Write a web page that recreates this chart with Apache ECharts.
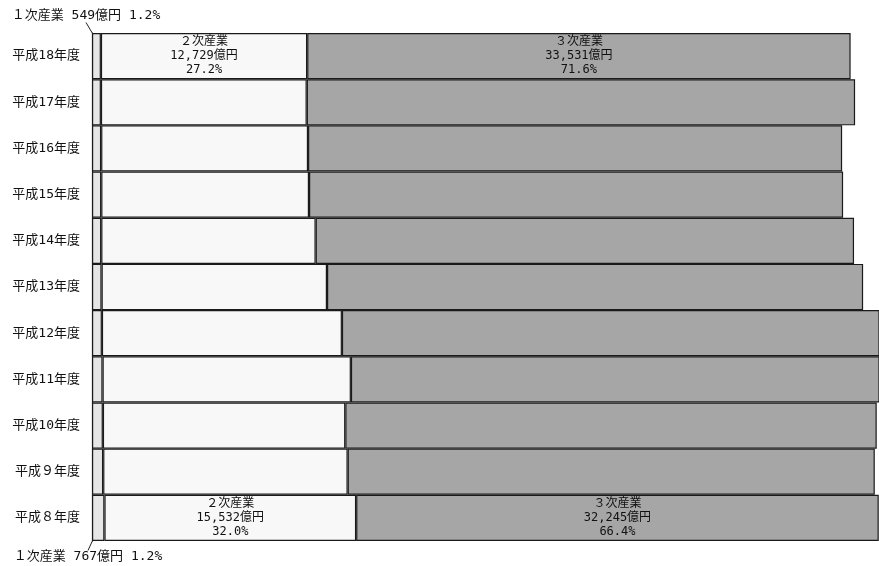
<!DOCTYPE html>
<html>
<head>
<meta charset="utf-8">
<script src="https://cdn.jsdelivr.net/npm/echarts@6/dist/echarts.min.js"></script>
<style>
html,body{margin:0;padding:0;background:#fff;}
#chart{width:879px;height:566px;}
</style>
</head>
<body>
<div id="chart"></div>
<script>
// Categories (bottom to top)
var categories = ['平成８年度','平成９年度','平成10年度','平成11年度','平成12年度','平成13年度','平成14年度','平成15年度','平成16年度','平成17年度','平成18年度'];
// 億円
var primary   = [767, 690, 670, 650, 610, 590, 570, 570, 565, 550, 549];
var secondary = [15532, 15085, 14960, 15325, 14810, 13910, 13230, 12820, 12765, 12700, 12729];
var tertiary  = [32245, 32525, 32790, 32925, 33580, 33080, 33220, 32955, 32955, 33835, 33531];
// Percent labels as printed (null = not labelled)
var primaryPct   = ['1.2%', null, null, null, null, null, null, null, null, null, '1.2%'];
var secondaryPct = ['32.0%', null, null, null, null, null, null, null, null, null, '27.2%'];
var tertiaryPct  = ['66.4%', null, null, null, null, null, null, null, null, null, '71.6%'];
var seriesNames = ['１次産業', '２次産業', '３次産業'];
var xMax = 48560;

var FONT = "'DejaVu Sans Mono', 'Noto Sans CJK JP', monospace";
function fmt(v){ return v.toString().replace(/\B(?=(\d{3})+(?!\d))/g, ','); }

function buildData(values, pcts){
  return values.map(function(v, i){
    return { value: v, label: { show: pcts[i] != null } };
  });
}

function innerLabel(name, pcts){
  return {
    show: false, position: 'inside', color: '#111', fontSize: 12, lineHeight: 14, fontFamily: FONT,
    formatter: function(p){
      return name + '\n' + fmt(p.value) + '億円\n' + pcts[p.dataIndex];
    }
  };
}

var chart = echarts.init(document.getElementById('chart'), null, {renderer: 'canvas'});
var barStyle = { borderColor: '#1a1a1a', borderWidth: 1.2 };

chart.setOption({
  backgroundColor: '#ffffff',
  animation: false,
  grid: { left: 92, right: 0, top: 33, bottom: 25, containLabel: false },
  xAxis: { type: 'value', min: 0, max: xMax, show: false },
  yAxis: {
    type: 'category',
    data: categories,
    axisLine: { show: true, lineStyle: { color: '#1a1a1a', width: 1.2 } },
    axisTick: { show: false },
    axisLabel: { color: '#111', fontSize: 13, fontFamily: FONT, margin: 12 },
    splitLine: { show: false }
  },
  series: [
    {
      name: seriesNames[0], type: 'bar', stack: 'total', barCategoryGap: '0%',
      itemStyle: Object.assign({ color: '#e6e6e6' }, barStyle),
      data: buildData(primary, primaryPct),
      label: {
        show: false, position: 'top', color: '#111', fontSize: 13, fontFamily: FONT,
        formatter: function(p){ return seriesNames[0] + ' ' + fmt(p.value) + '億円 ' + primaryPct[p.dataIndex]; }
      },
      labelLine: { show: true, lineStyle: { color: '#222', width: 1 } },
      labelLayout: function(p){
        if (p.dataIndex === categories.length - 1) {
          return { x: p.rect.x - 6, y: p.rect.y - 17, align: 'center', verticalAlign: 'middle' };
        }
        return { x: p.rect.x - 4, y: p.rect.y + p.rect.height + 16, align: 'center', verticalAlign: 'middle' };
      }
    },
    {
      name: seriesNames[1], type: 'bar', stack: 'total', barCategoryGap: '0%',
      itemStyle: Object.assign({ color: '#f8f8f8' }, barStyle),
      data: buildData(secondary, secondaryPct),
      label: innerLabel(seriesNames[1], secondaryPct)
    },
    {
      name: seriesNames[2], type: 'bar', stack: 'total', barCategoryGap: '0%',
      itemStyle: Object.assign({ color: '#a6a6a6' }, barStyle),
      data: buildData(tertiary, tertiaryPct),
      label: innerLabel(seriesNames[2], tertiaryPct)
    }
  ]
});
</script>
</body>
</html>
